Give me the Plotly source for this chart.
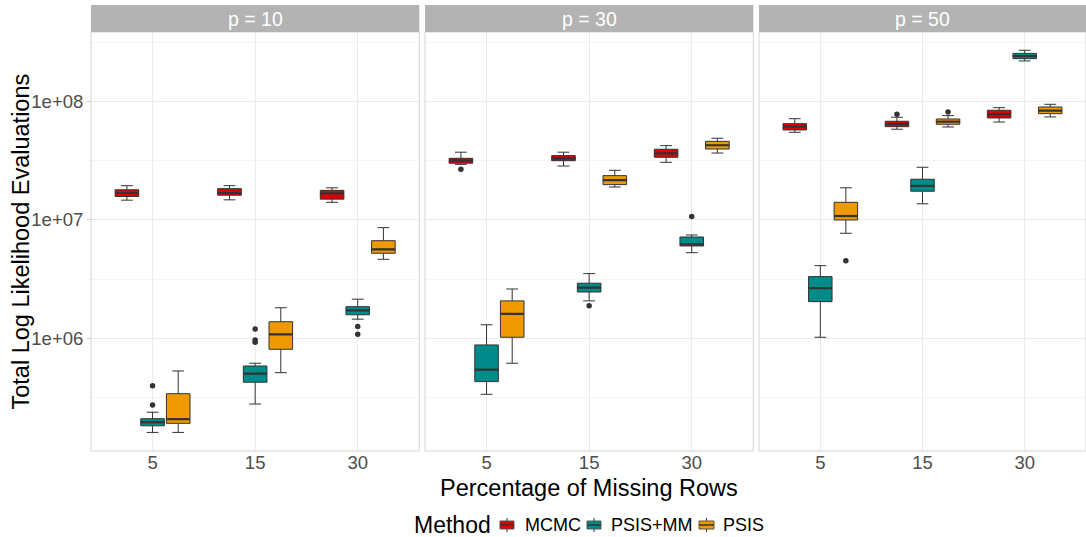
import plotly.graph_objects as go

# ---------------- data ----------------
PANELS = ["p = 10", "p = 30", "p = 50"]
PCT_LABELS = ["5", "15", "30"]
METHODS = ["MCMC", "PSIS+MM", "PSIS"]
COLORS = ["#E00000", "#008B8B", "#EE9A00"]

# each list: one row per panel (p=10, 30, 50), one value per missing-row percentage (5, 15, 30)
mcmc_lo = [[1.47e7, 1.48e7, 1.41e7], [2.95e7, 2.86e7, 3.07e7], [5.51e7, 5.85e7, 6.73e7]]
mcmc_q1 = [[1.58e7, 1.62e7, 1.50e7], [3.02e7, 3.17e7, 3.39e7], [5.77e7, 6.15e7, 7.28e7]]
mcmc_med = [[1.69e7, 1.69e7, 1.68e7], [3.17e7, 3.32e7, 3.66e7], [6.15e7, 6.48e7, 7.82e7]]
mcmc_q3 = [[1.80e7, 1.84e7, 1.78e7], [3.32e7, 3.50e7, 3.96e7], [6.52e7, 6.83e7, 8.46e7]]
mcmc_hi = [[1.95e7, 1.95e7, 1.87e7], [3.74e7, 3.74e7, 4.25e7], [7.18e7, 7.38e7, 8.90e7]]
mcmc_out = [[[], [], []], [[2.68e7], [], []], [[], [7.82e7], []]]

mm_lo = [[1.60e5, 2.78e5, 1.45e6], [3.36e5, 2.07e6, 5.29e6], [1.02e6, 1.37e7, 2.21e8]]
mm_q1 = [[1.82e5, 4.25e5, 1.58e6], [4.30e5, 2.46e6, 6.03e6], [2.04e6, 1.75e7, 2.31e8]]
mm_med = [[1.95e5, 5.02e5, 1.72e6], [5.43e5, 2.68e6, 6.23e6], [2.65e6, 1.94e7, 2.43e8]]
mm_q3 = [[2.09e5, 5.83e5, 1.85e6], [8.78e5, 2.92e6, 7.18e6], [3.32e6, 2.21e7, 2.56e8]]
mm_hi = [[2.37e5, 6.15e5, 2.14e6], [1.30e6, 3.52e6, 7.47e6], [4.11e6, 2.79e7, 2.72e8]]
mm_out = [[[2.73e5, 3.97e5], [1.20e6, 9.68e5, 9.25e5], [1.26e6, 1.08e6]],
          [[], [1.88e6], [1.07e7]],
          [[], [], []]]

psis_lo = [[1.60e5, 5.12e5, 4.65e6], [6.15e5, 1.90e7, 3.68e7], [7.72e6, 6.11e7, 7.43e7]]
psis_q1 = [[1.91e5, 8.07e5, 5.23e6], [1.02e6, 1.99e7, 3.98e7], [1.00e7, 6.44e7, 7.92e7]]
psis_med = [[2.07e5, 1.08e6, 5.65e6], [1.61e6, 2.17e7, 4.28e7], [1.08e7, 6.78e7, 8.40e7]]
psis_q3 = [[3.40e5, 1.38e6, 6.68e6], [2.07e6, 2.37e7, 4.62e7], [1.41e7, 7.14e7, 9.02e7]]
psis_hi = [[5.29e5, 1.81e6, 8.61e6], [2.61e6, 2.63e7, 4.91e7], [1.87e7, 7.62e7, 9.50e7]]
psis_out = [[[], [], []], [[], [], []], [[4.53e6], [8.18e7], []]]

Y_TICKS = [1e6, 1e7, 1e8]
Y_TICK_LABELS = ["1e+06", "1e+07", "1e+08"]
Y_MINOR = [10 ** 5.5, 10 ** 6.5, 10 ** 7.5, 10 ** 8.5]

STATS = [
    (mcmc_lo, mcmc_q1, mcmc_med, mcmc_q3, mcmc_hi, mcmc_out),
    (mm_lo, mm_q1, mm_med, mm_q3, mm_hi, mm_out),
    (psis_lo, psis_q1, psis_med, psis_q3, psis_hi, psis_out),
]

# ---------------- layout geometry ----------------
W, H = 1086, 537
DODGE = 0.25
BOX_W = 0.23
FONT = "Liberation Sans, Arial"
panel_px = [(91, 419.3), (425, 753.3), (759, 1086)]
top_px, bot_px = 32, 451
strip_top = 5
# legend layout (pixels): key box left/right, text left
legend_keys = [(500, 514, 523), (587, 601, 609), (699, 714, 721)]
legend_y = 525


def fx(p):
    return p / W


def fy(p):
    return 1 - p / H


fig = go.Figure()

for pi in range(len(PANELS)):
    xa = "x" if pi == 0 else f"x{pi + 1}"
    ya = "y" if pi == 0 else f"y{pi + 1}"
    for mi, (lo, q1, med, q3, hi, out) in enumerate(STATS):
        pos = [ci + (mi - 1) * DODGE for ci in range(len(PCT_LABELS))]
        fig.add_trace(go.Box(
            x=pos, q1=q1[pi], median=med[pi], q3=q3[pi],
            lowerfence=lo[pi], upperfence=hi[pi],
            width=BOX_W, boxpoints=False,
            fillcolor=COLORS[mi], line=dict(color="#333333", width=1),
            name=METHODS[mi], showlegend=False, xaxis=xa, yaxis=ya,
        ))
        # thicker median line (as in ggplot)
        mx, my = [], []
        for ci, p in enumerate(pos):
            mx += [p - BOX_W / 2, p + BOX_W / 2, None]
            my += [med[pi][ci], med[pi][ci], None]
        fig.add_trace(go.Scatter(
            x=mx, y=my, mode="lines", line=dict(color="#333333", width=2.2),
            showlegend=False, hoverinfo="skip", xaxis=xa, yaxis=ya,
        ))
        # outliers
        ox, oy = [], []
        for ci, p in enumerate(pos):
            for v in out[pi][ci]:
                ox.append(p)
                oy.append(v)
        if ox:
            fig.add_trace(go.Scatter(
                x=ox, y=oy, mode="markers",
                marker=dict(color="#333333", size=5.5),
                showlegend=False, hoverinfo="skip", xaxis=xa, yaxis=ya,
            ))

layout = {}
for pi, (l, r) in enumerate(panel_px):
    key = "" if pi == 0 else str(pi + 1)
    layout[f"xaxis{key}"] = dict(
        domain=[fx(l), fx(r)], range=[-0.6, 2.6],
        tickvals=[0, 1, 2], ticktext=PCT_LABELS,
        showgrid=True, gridcolor="#EBEBEB", gridwidth=1,
        zeroline=False, showline=False, automargin=False,
        ticks="", ticklabelstandoff=-2,
        tickfont=dict(family=FONT, size=18.5, color="#4D4D4D"),
        anchor="y" if pi == 0 else f"y{pi + 1}",
    )
    layout[f"yaxis{key}"] = dict(
        domain=[fy(bot_px), fy(top_px)], type="log",
        range=[5.047, 8.589],
        tickvals=Y_TICKS, ticktext=Y_TICK_LABELS,
        showgrid=True, gridcolor="#EBEBEB", gridwidth=1,
        minor=dict(tickvals=Y_MINOR, showgrid=True, gridcolor="#F5F5F5", ticklen=0),
        zeroline=False, showline=False, automargin=False,
        showticklabels=(pi == 0),
        ticks="outside" if pi == 0 else "", ticklen=3, tickcolor="#C8C8C8",
        tickfont=dict(family=FONT, size=18.5, color="#4D4D4D"),
        anchor="x" if pi == 0 else f"x{pi + 1}",
    )
    if pi > 0:
        layout[f"yaxis{key}"]["matches"] = "y"

shapes = []
annotations = []
for pi, (l, r) in enumerate(panel_px):
    # panel border
    shapes.append(dict(type="rect", xref="paper", yref="paper",
                       x0=fx(l), x1=fx(r), y0=fy(bot_px), y1=fy(top_px),
                       line=dict(color="#D4D4D4", width=1), fillcolor="rgba(0,0,0,0)",
                       layer="above"))
    # strip
    shapes.append(dict(type="rect", xref="paper", yref="paper",
                       x0=fx(l), x1=fx(r), y0=fy(top_px), y1=fy(strip_top),
                       line=dict(width=0), fillcolor="#B3B3B3"))
    annotations.append(dict(text=PANELS[pi], xref="paper", yref="paper",
                            x=fx((l + r) / 2), y=fy((top_px + strip_top) / 2),
                            showarrow=False, xanchor="center", yanchor="middle",
                            font=dict(family=FONT, size=19.5, color="white")))

annotations.append(dict(text="Percentage of Missing Rows", xref="paper", yref="paper",
                        x=fx((91 + 1086) / 2), y=fy(487.5), showarrow=False,
                        xanchor="center", yanchor="middle",
                        font=dict(family=FONT, size=23.5, color="black")))
annotations.append(dict(text="Total Log Likelihood Evaluations", xref="paper", yref="paper",
                        x=fx(20), y=fy((top_px + bot_px) / 2), showarrow=False,
                        textangle=-90, xanchor="center", yanchor="middle",
                        font=dict(family=FONT, size=23.5, color="black")))

# ---- manual legend (ggplot style) ----
annotations.append(dict(text="Method", xref="paper", yref="paper",
                        x=fx(493), y=fy(legend_y), showarrow=False,
                        xanchor="right", yanchor="middle",
                        font=dict(family=FONT, size=23, color="black")))
for mi, (k0, k1, tx) in enumerate(legend_keys):
    kc = (k0 + k1) / 2
    shapes.append(dict(type="line", xref="paper", yref="paper",
                       x0=fx(kc), x1=fx(kc), y0=fy(legend_y + 7), y1=fy(legend_y - 7),
                       line=dict(color="#333333", width=1)))
    shapes.append(dict(type="rect", xref="paper", yref="paper",
                       x0=fx(k0), x1=fx(k1), y0=fy(legend_y + 4), y1=fy(legend_y - 4),
                       line=dict(color="#555555", width=1), fillcolor=COLORS[mi]))
    shapes.append(dict(type="line", xref="paper", yref="paper",
                       x0=fx(k0), x1=fx(k1), y0=fy(legend_y), y1=fy(legend_y),
                       line=dict(color="#333333", width=1.5)))
    annotations.append(dict(text=METHODS[mi], xref="paper", yref="paper",
                            x=fx(tx), y=fy(legend_y), showarrow=False,
                            xanchor="left", yanchor="middle",
                            font=dict(family=FONT, size=18, color="black")))

fig.update_layout(
    width=W, height=H,
    margin=dict(l=0, r=0, t=0, b=0, autoexpand=False),
    paper_bgcolor="white", plot_bgcolor="white",
    shapes=shapes, annotations=annotations,
    showlegend=False,
    **layout,
)

fig.write_html("out.html")
